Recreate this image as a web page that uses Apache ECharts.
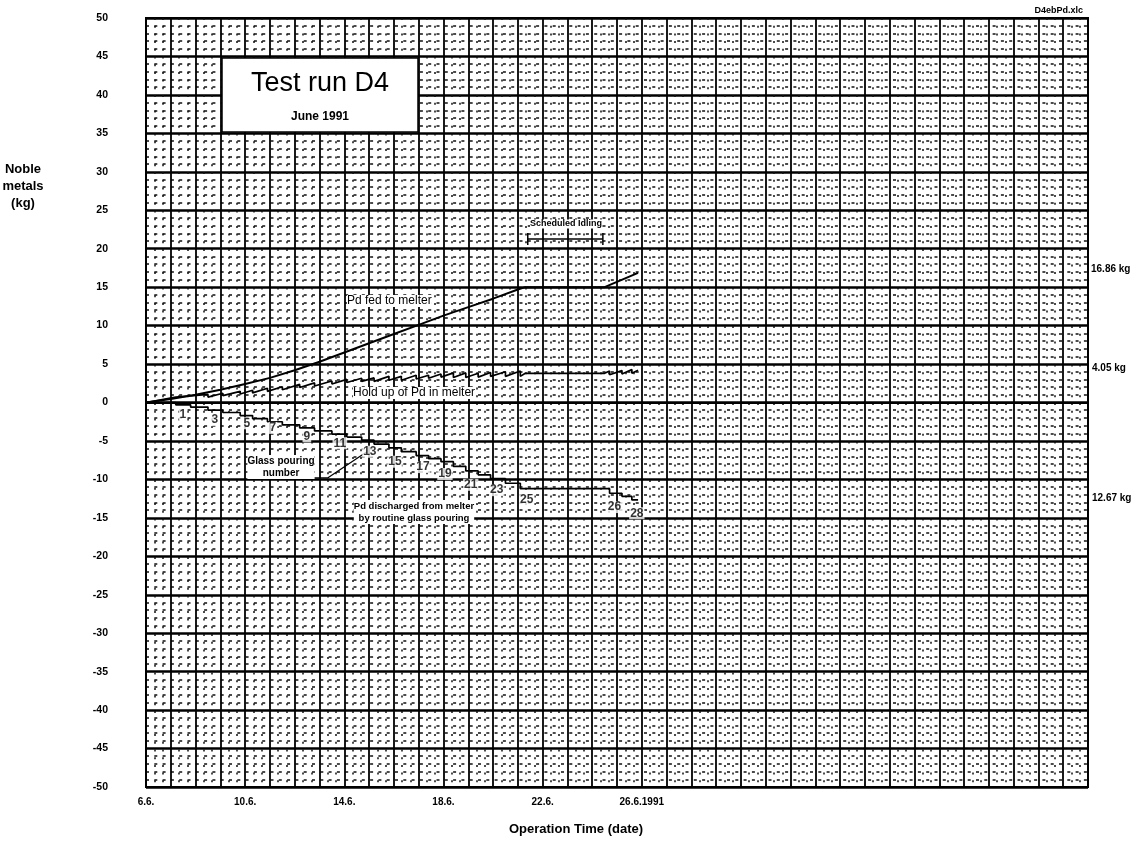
<!DOCTYPE html>
<html>
<head>
<meta charset="utf-8">
<title>Test run D4</title>
<script src="https://cdn.jsdelivr.net/npm/echarts@6/dist/echarts.min.js"></script>
<style>
  html, body { margin: 0; padding: 0; background: #fff; }
  #chart { width: 1141px; height: 845px; }
</style>
</head>
<body>
<div id="chart"></div>
<script>
// x values are days counted from 6.6. (one grid column per day)
var dateTicks = [0, 4, 8, 12, 16, 20];
var dateLabels = ['6.6.', '10.6.', '14.6.', '18.6.', '22.6.', '26.6.1991'];

// Pd fed to melter (kg)
var fedT = [0, 1, 2, 3, 4, 5, 6, 7, 8, 9, 10, 11, 12, 13, 14, 15, 15.3, 18.5, 19.85];
var fedV = [0, 0.45, 1.0, 1.65, 2.4, 3.2, 4.2, 5.3, 6.5, 7.7, 8.9, 10.1, 11.3, 12.4, 13.5, 14.7, 15.0, 15.0, 16.86];

// Pd discharged, cumulative after each glass pouring (kg)
var dischT = [0, 1.2, 1.8, 2.5, 3.1, 3.8, 4.3, 4.9, 5.5, 6.2, 6.8, 7.5, 8.1, 8.7, 9.2, 9.8, 10.3, 10.9, 11.4, 11.9, 12.4, 12.9, 13.4, 13.9, 14.5, 15.1, 18.7, 19.2, 19.6, 19.85];
var dischV = [0, -0.3, -0.6, -1.0, -1.3, -1.7, -2.1, -2.5, -2.9, -3.3, -3.7, -4.1, -4.5, -4.9, -5.4, -5.9, -6.4, -6.9, -7.3, -7.7, -8.3, -8.9, -9.4, -9.9, -10.5, -11.2, -11.8, -12.2, -12.67, -12.67];

// hold up of Pd in melter (saw tooth, peak and trough at each pouring)
var holdT = [0, 1.2, 1.2, 1.8, 1.8, 2.5, 2.5, 3.1, 3.1, 3.8, 3.8, 4.3, 4.3, 4.9, 4.9, 5.5, 5.5, 6.2, 6.2, 6.8, 6.8,
  7.5, 7.5, 8.1, 8.1, 8.7, 8.7, 9.2, 9.2, 9.8, 9.8, 10.3, 10.3, 10.9, 10.9, 11.4, 11.4, 11.9, 11.9, 12.4, 12.4,
  12.9, 12.9, 13.4, 13.4, 13.9, 13.9, 14.5, 14.5, 15.1, 15.1, 15.3, 18.5, 18.7, 18.7, 19.2, 19.2, 19.6, 19.6, 19.85];
var holdV = [0, 0.7, 0.45, 0.85, 0.6, 1.05, 0.7, 1.2, 0.9, 1.45, 1.1, 1.6, 1.25, 1.85, 1.45, 2.05, 1.65, 2.35, 1.95, 2.55, 2.15,
  2.8, 2.4, 3.0, 2.6, 3.15, 2.75, 3.2, 2.75, 3.4, 2.9, 3.4, 2.9, 3.55, 3.05, 3.55, 3.15, 3.7, 3.3, 3.85, 3.25,
  3.85, 3.25, 3.8, 3.3, 3.9, 3.4, 4.0, 3.4, 4.1, 3.4, 3.8, 3.8, 4.1, 3.6, 4.15, 3.7, 4.3, 3.8, 4.2];

// glass pouring numbers written along the discharge steps
var pourNo = ['1', '3', '5', '7', '9', '11', '13', '15', '17', '19', '21', '23', '25', '26', '28'];
var pourNoT = [1.49, 2.78, 4.07, 5.12, 6.49, 7.82, 9.03, 10.04, 11.17, 12.06, 13.1, 14.15, 15.36, 18.9, 19.8];
var pourNoV = [-1.6, -2.3, -2.7, -3.3, -4.4, -5.3, -6.4, -7.7, -8.4, -9.3, -10.7, -11.4, -12.7, -13.6, -14.4];

// scheduled idling bracket and the leader of "Glass pouring number"
var idleT = [15.4, 18.43];
var idleV = [21.26, 21.26];
var leaderT = [6.33, 7.34, 8.91];
var leaderV = [-9.8, -9.8, -6.4];

var finalLabels = ['16.86 kg', '4.05 kg', '12.67 kg'];

function pairs(xs, ys) {
    var res = [];
    for (var i = 0; i < xs.length; i++) {
        res.push([xs[i], ys[i]]);
    }
    return res;
}

var FONT = '"Liberation Sans", Arial, sans-serif';
var chart = echarts.init(document.getElementById('chart'));

var option = {
    backgroundColor: '#fff',
    animation: false,
    textStyle: { fontFamily: FONT },
    grid: {
        left: 146, right: 53, top: 18, bottom: 58,
        show: true, borderColor: '#000', borderWidth: 2
    },
    xAxis: {
        type: 'value',
        min: 0, max: 38, interval: 1,
        axisLine: { show: true, lineStyle: { color: '#000', width: 2 } },
        axisTick: { show: false },
        axisLabel: {
            customValues: dateTicks,
            margin: 10,
            color: '#000', fontWeight: 'bold', fontSize: 10, fontFamily: FONT,
            formatter: function (v) {
                var i = dateTicks.indexOf(v);
                return i >= 0 ? dateLabels[i] : '';
            }
        },
        splitLine: { show: true, lineStyle: { color: '#000', width: 1.8 } },
        minorTick: { show: false, splitNumber: 3 },
        minorSplitLine: { show: true, lineStyle: { color: '#111', width: 1.5, type: [2, 5.7] } }
    },
    yAxis: {
        type: 'value',
        min: -50, max: 50, interval: 5,
        axisLine: { show: true, lineStyle: { color: '#000', width: 2 } },
        axisTick: { show: false },
        axisLabel: { margin: 38, color: '#000', fontWeight: 'bold', fontSize: 10.5, fontFamily: FONT },
        splitLine: { show: true, lineStyle: { color: '#000', width: 2.6 } },
        minorTick: { show: false, splitNumber: 5 },
        minorSplitLine: { show: true, lineStyle: { color: '#111', width: 1.5, type: [3, 5.3] } }
    },
    series: [
        {
            name: 'fed', type: 'line', data: pairs(fedT, fedV),
            symbol: 'none', lineStyle: { color: '#000', width: 2 }, z: 5
        },
        {
            name: 'hold', type: 'line', data: pairs(holdT, holdV),
            symbol: 'none', lineStyle: { color: '#000', width: 1.7 }, z: 5
        },
        {
            name: 'discharged', type: 'line', step: 'end', data: pairs(dischT, dischV),
            symbol: 'none', lineStyle: { color: '#000', width: 1.7 }, z: 5
        },
        {
            name: 'idle', type: 'line', data: pairs(idleT, idleV),
            symbol: 'rect', symbolSize: [1.5, 12], showSymbol: true,
            itemStyle: { color: '#000' }, lineStyle: { color: '#000', width: 1.4 }, z: 5
        },
        {
            name: 'leader', type: 'line', data: pairs(leaderT, leaderV),
            symbol: 'none', lineStyle: { color: '#000', width: 1.2 }, z: 5
        },
        {
            name: 'pour', type: 'scatter', data: pairs(pourNoT, pourNoV),
            symbolSize: 0, z: 6,
            label: {
                show: true, position: 'inside',
                color: '#000', fontSize: 12, fontWeight: 'bold', fontFamily: FONT,
                backgroundColor: '#fff', padding: [0, 1],
                formatter: function (p) { return pourNo[p.dataIndex]; }
            }
        }
    ],
    graphic: [
        // title box
        { type: 'rect', shape: { x: 222, y: 58, width: 196, height: 74 },
          style: { fill: '#fff', stroke: '#000', lineWidth: 1.5 }, z: 10 },
        { type: 'text', x: 320, y: 84, z: 11,
          style: { text: 'Test run D4', font: '27px ' + FONT, fill: '#000', align: 'center', verticalAlign: 'middle' } },
        { type: 'text', x: 320, y: 117, z: 11,
          style: { text: 'June 1991', font: 'bold 12px ' + FONT, fill: '#000', align: 'center', verticalAlign: 'middle' } },
        // file name
        { type: 'text', x: 1083, y: 11, z: 11,
          style: { text: 'D4ebPd.xlc', font: 'bold 9px ' + FONT, fill: '#000', align: 'right', verticalAlign: 'middle' } },
        // axis names
        { type: 'text', x: 23, y: 186, z: 11,
          style: { text: 'Noble\nmetals\n(kg)', font: 'bold 13px ' + FONT, lineHeight: 17, fill: '#000', align: 'center', verticalAlign: 'middle' } },
        { type: 'text', x: 576, y: 829, z: 11,
          style: { text: 'Operation Time (date)', font: 'bold 13px ' + FONT, fill: '#000', align: 'center', verticalAlign: 'middle' } },
        // curve annotations
        { type: 'text', x: 347, y: 301, z: 11,
          style: { text: 'Pd fed to melter', font: '12px ' + FONT, fill: '#000', backgroundColor: '#fff', verticalAlign: 'middle' } },
        { type: 'text', x: 353, y: 393, z: 11,
          style: { text: 'Hold up of Pd in melter', font: '12px ' + FONT, fill: '#000', backgroundColor: '#fff', verticalAlign: 'middle' } },
        { type: 'text', x: 281, y: 467, z: 11,
          style: { text: 'Glass pouring\nnumber', font: 'bold 10px ' + FONT, lineHeight: 12, fill: '#000', backgroundColor: '#fff', align: 'center', verticalAlign: 'middle' } },
        { type: 'text', x: 414, y: 512, z: 11,
          style: { text: 'Pd discharged from melter\nby routine glass pouring', font: 'bold 9.5px ' + FONT, lineHeight: 12, fill: '#000', backgroundColor: '#fff', align: 'center', verticalAlign: 'middle' } },
        { type: 'text', x: 566, y: 224, z: 11,
          style: { text: 'Scheduled Idling', font: 'bold 9px ' + FONT, fill: '#000', backgroundColor: '#fff', align: 'center', verticalAlign: 'middle' } },
        // final values at the right
        { type: 'text', x: 1091, y: 269, z: 11,
          style: { text: finalLabels[0], font: 'bold 10px ' + FONT, fill: '#000', verticalAlign: 'middle' } },
        { type: 'text', x: 1092, y: 368, z: 11,
          style: { text: finalLabels[1], font: 'bold 10px ' + FONT, fill: '#000', verticalAlign: 'middle' } },
        { type: 'text', x: 1092, y: 498, z: 11,
          style: { text: finalLabels[2], font: 'bold 10px ' + FONT, fill: '#000', verticalAlign: 'middle' } }
    ]
};

chart.setOption(option);
</script>
</body>
</html>
